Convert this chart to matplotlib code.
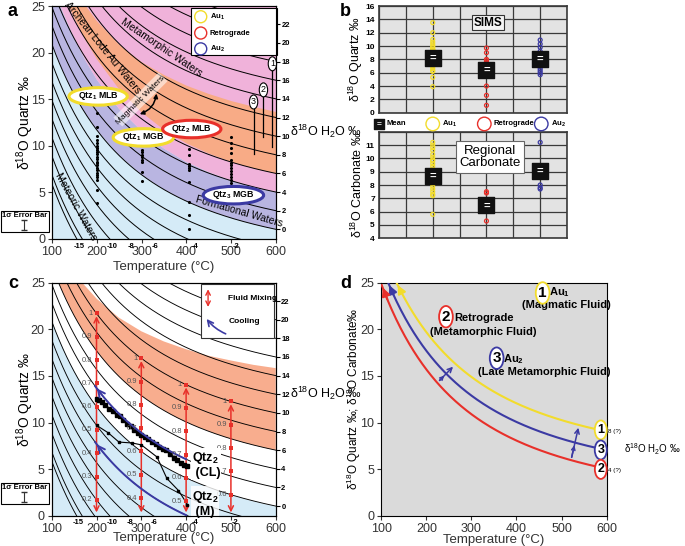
import numpy as np
import matplotlib.pyplot as plt
from matplotlib.patches import Rectangle
from matplotlib.lines import Line2D

plt.rcParams['font.family'] = ['Liberation Sans', 'DejaVu Sans']
plt.rcParams['mathtext.fontset'] = 'custom'
plt.rcParams['mathtext.rm'] = 'Liberation Sans'
plt.rcParams['mathtext.bf'] = 'Liberation Sans:bold'

# quartz-water fractionation used for the isopleths: 1000 ln a = A/T^2 - B
FRAC_A = 3.38e6
FRAC_B = 3.40

# water isopleths drawn in a and c
isopleth_water = [-15, -14, -12, -10, -8, -6, -4, -2, 0, 2, 4, 6, 8, 10, 12, 14, 16, 18, 20, 22]
right_labels = [0, 2, 4, 6, 8, 10, 12, 14, 16, 18, 20, 22]
bottom_label_t = [160, 234, 276, 329, 420, 510]
bottom_label_txt = ['-15', '-10', '-8', '-6', '-4', '-2']

# panel a fluid fields: water d18O of the field limits, read at these temperatures
field_t = [100, 125, 150, 175, 200, 250, 300, 350, 400, 450, 500, 550, 600]
meteoric_top = [0] * 13
formational_top = [6.5, 6.3, 6.0, 5.7, 5.4, 5.0, 4.7, 4.4, 4.2, 4.1, 4.0, 4.0, 4.0]
lode_low = [8.6, 8.4, 8.2, 7.9, 7.6, 7.1, 6.7, 6.4, 6.2, 6.1, 6.0, 6.0, 6.0]
lode_high = [11.3, 11.4, 11.5, 11.6, 11.7, 11.9, 12.1, 12.3, 12.4, 12.5, 12.55, 12.6, 12.6]

# panel a measured quartz (d18O) by temperature column
au1_200 = [13.5, 12.0, 11.0, 10.6, 10.3, 10.0, 9.8, 9.5, 9.3, 9.1, 8.8, 8.6, 8.3, 8.1,
           7.9, 7.6, 7.4, 7.1, 6.9, 6.6, 6.3, 5.3, 3.9]
au1_300 = [9.5, 9.3, 9.0, 8.8, 8.5, 8.3, 7.2, 6.2]
retro_400 = [9.7, 9.0, 8.0, 7.8, 7.6, 7.4, 6.1, 4.0, 2.6, 1.1]
au2_500 = [10.9, 10.3, 9.8, 9.2, 8.5, 8.2, 7.9, 7.6, 7.3, 7.0, 6.6, 6.3, 6.0, 5.7]

# panel b
sims_means = [8.25, 6.4, 8.0]
carb_au1 = [11.2, 11.0, 10.8, 10.6, 10.3, 10.1, 9.9, 9.8, 9.6, 9.4, 9.2, 9.0, 8.9, 8.7,
            8.5, 8.3, 8.1, 7.9, 7.7, 7.5, 7.3, 7.2, 5.8]
carb_retro = [7.5, 7.4, 5.3]
carb_au2 = [11.2, 8.0, 7.8, 7.7]
carb_means = [8.65, 6.47, 9.08]

# panel c
mix_temps = [200, 300, 400, 500]
mix_fracs = [[0.2, 0.3, 0.4, 0.5, 0.6, 0.7, 0.8, 0.9, 1],
             [0.4, 0.5, 0.6, 0.7, 0.8, 0.9, 1],
             [0.5, 0.6, 0.7, 0.8, 0.9, 1],
             [0.6, 0.7, 0.8, 0.9, 1]]
mix_low_water, mix_high_water = -15, 10
cl_t = [200, 205, 212, 220, 228, 236, 245, 252, 260, 268, 276, 284, 292, 300, 308, 316,
        324, 332, 340, 348, 356, 364, 372, 380, 388, 396, 401]
cl_q = [12.5, 12.4, 12.2, 11.9, 11.5, 11.2, 10.8, 10.7, 10.3, 9.8, 9.6, 9.2, 8.9, 8.7,
        8.4, 8.2, 7.9, 7.7, 7.4, 7.2, 7.0, 6.6, 6.2, 6.0, 5.7, 5.4, 5.3]
m_t = [200, 226, 250, 280, 300, 335, 357, 383, 403]
m_q = [9.7, 8.9, 7.9, 7.8, 7.6, 6.3, 4.0, 2.7, 1.2]
cooling_water = [2, -4]
c_lode_low = 6
c_lode_top_t = [150, 175, 200, 250, 300, 350, 400, 450, 500, 550, 600]
c_lode_top_w = [10.5, 11.2, 11.6, 12.3, 12.9, 13.4, 13.8, 14.1, 14.4, 14.6, 14.8]

# panel d
d_water = [8, 6, 4]
d_colors = ['#f2dc2c', '#3b3aa3', '#e8302a']

BLUE = '#3b3aa3'
RED = '#e8302a'
YEL = '#f2dc2c'


def quartz_d18o(temp_c, water):
    tk = np.asarray(temp_c, dtype=float) + 273.15
    return np.asarray(water, dtype=float) + FRAC_A / tk ** 2 - FRAC_B


tgrid = np.linspace(100, 600, 300)

fig = plt.figure(figsize=(6.85, 5.46), dpi=100)
ax_a = fig.add_axes([0.0759, 0.5623, 0.327, 0.4267])
ax_b1 = fig.add_axes([0.5533, 0.7936, 0.2745, 0.1954])
ax_b2 = fig.add_axes([0.5533, 0.5635, 0.2745, 0.1953])
ax_c = fig.add_axes([0.0755, 0.0555, 0.327, 0.4267])
ax_d = fig.add_axes([0.5566, 0.0555, 0.329, 0.4267])


def temp_axes(ax, xlab_y):
    ax.set_xlim(100, 600)
    ax.set_ylim(0, 25)
    ax.set_xticks(range(100, 601, 100))
    ax.set_yticks(range(0, 26, 5))
    ax.tick_params(labelsize=9, colors='#333333', length=3, pad=2)
    ax.set_xlabel('Temperature (°C)', fontsize=9.5, color='#333333')
    ax.xaxis.set_label_coords(0.5, xlab_y)


def isopleth_axes(ax, xlab_y, lw=0.7):
    for w in isopleth_water:
        ax.plot(tgrid, quartz_d18o(tgrid, w), color='k', lw=lw, zorder=2)
    temp_axes(ax, xlab_y)
    ax.set_ylabel('δ$^{18}$O Quartz ‰', fontsize=10)
    ax.yaxis.set_label_coords(-0.07, 0.5)
    for t, s in zip(bottom_label_t, bottom_label_txt):
        ax.text(t, -0.4, s, ha='center', va='top', fontsize=5.5, fontweight='bold')
    ax2 = ax.twinx()
    ax2.set_ylim(0, 25)
    ax2.set_yticks(quartz_d18o(600, np.array(right_labels)))
    ax2.set_yticklabels([str(v) for v in right_labels], fontsize=5.5, fontweight='bold')
    ax2.tick_params(length=3, width=0.8, pad=1)


def field(ax, w_low, w_high, color):
    t = np.array(field_t, dtype=float)
    lo = quartz_d18o(t, w_low)
    hi = quartz_d18o(t, w_high)
    ax.fill(np.concatenate([t, t[::-1]]), np.concatenate([lo, hi[::-1]]), color=color, lw=0, zorder=0)


def error_box(top_px):
    x0, w, h = 1, 48, 21
    y0 = 546 - top_px - h
    fig.add_artist(Rectangle((x0 / 685, y0 / 546), w / 685, h / 546, transform=fig.transFigure,
                             fill=False, ec='k', lw=0.8))
    fig.text((x0 + w / 2) / 685, (546 - top_px - 4.5) / 546, '1σ Error Bar', ha='center',
             va='center', fontsize=5.5, fontweight='bold')
    xb = 24 / 685
    fig.add_artist(Line2D([xb, xb], [(546 - top_px - 9) / 546, (546 - top_px - 19) / 546],
                          transform=fig.transFigure, color='#333', lw=0.8, marker='_', markersize=4))


# ---------------- panel a
ax = ax_a
ax.set_facecolor('#d5ebf7')
field(ax, meteoric_top, formational_top, '#b9b5e1')
field(ax, formational_top, [40] * 13, '#f0b2da')
field(ax, lode_low, lode_high, '#f8ab86')
isopleth_axes(ax, -0.093)

for t, vals in [(200, au1_200), (300, au1_300), (405, retro_400), (500, au2_500)]:
    ax.scatter([t] * len(vals), vals, s=5, color='k', zorder=4, lw=0)

ax.plot([247, 348], [12.55, 17.4], color='white', alpha=0.55, lw=9, zorder=3, solid_capstyle='butt')
ax.text(297, 14.9, 'Magmatic Waters', rotation=45, fontsize=6, ha='center', va='center', zorder=4)
ax.annotate('', xy=(334, 15.9), xytext=(290, 13.3),
            arrowprops=dict(arrowstyle='<|-|>', color='k', lw=1.1, mutation_scale=6,
                            connectionstyle='arc3,rad=0.35'), zorder=4)

ax.text(212, 20.5, 'Archean Lode Au Waters', rotation=-51, fontsize=7.5, ha='center', va='center', zorder=4)
ax.text(345, 20.5, 'Metamorphic Waters', rotation=-34, fontsize=7.5, ha='center', va='center', zorder=4)
ax.text(518, 2.9, 'Formational Waters', rotation=-16, fontsize=7.5, ha='center', va='center', zorder=4)
ax.text(154, 3.5, 'Meteoric Waters', rotation=-61, fontsize=7.5, ha='center', va='center', zorder=4)

for (t, q, s, col) in [(203, 15.3, r'Qtz$_\mathbf{1}$ MLB', YEL), (304, 10.9, r'Qtz$_\mathbf{1}$ MGB', YEL),
                       (412, 11.8, r'Qtz$_\mathbf{2}$ MLB', RED), (505, 4.7, r'Qtz$_\mathbf{3}$ MGB', BLUE)]:
    ax.text(t, q, s, ha='center', va='center', fontsize=6.3, fontweight='bold', zorder=6,
            bbox=dict(boxstyle='ellipse,pad=0.02', fc='white', ec=col, lw=2.2))

for (t, lo, hi, s) in [(592, 9.9, 18.8, '1'), (572, 10.9, 16.0, '2'), (550, 9.1, 14.7, '3')]:
    ax.plot([t, t], [lo, hi], color='k', lw=0.9, zorder=4)
    ax.text(t, hi, s, ha='center', va='center', fontsize=6.5, zorder=6,
            bbox=dict(boxstyle='ellipse,pad=0.05', fc='white', ec='k', lw=0.8))

ax.add_patch(Rectangle((410, 19.75), 193, 5.0, fc='white', ec='k', lw=0.8, zorder=7, clip_on=False))
for q, col, s in [(23.85, YEL, r'Au$_\mathbf{1}$'), (22.1, RED, 'Retrograde'), (20.4, BLUE, r'Au$_\mathbf{2}$')]:
    ax.scatter([432], [q], s=75, facecolors='none', edgecolors=col, lw=1.0, zorder=8)
    ax.text(452, q, s, fontsize=5.5, fontweight='bold', va='center', zorder=8)

fig.text(290 / 685, 1 - 131 / 546, 'δ$^{18}$O H$_2$O ‰', fontsize=9, va='center')
error_box(211)

# ---------------- panel b
b_x = [2, 4, 6]
for axb in (ax_b1, ax_b2):
    axb.set_facecolor('#e3e3e3')
    axb.set_xlim(0, 7)
    axb.set_xticks(range(8))
    axb.set_xticklabels([])
    axb.tick_params(length=0, labelsize=6, pad=3)
    axb.grid(True, color='#3a3a3a', lw=0.9)
    axb.set_axisbelow(True)
    for sp in axb.spines.values():
        sp.set_color('#3a3a3a')
        sp.set_linewidth(1.2)

ax_b1.set_ylim(0, 16)
ax_b1.set_yticks(range(0, 17, 2))
ax_b2.set_ylim(4, 12)
ax_b2.set_yticks(range(4, 13))
ax_b2.set_yticklabels([str(v) for v in range(4, 12)] + [''])
for axb in (ax_b1, ax_b2):
    for lab in axb.get_yticklabels():
        lab.set_fontweight('bold')

sims_sets = [au1_200 + au1_300, retro_400, au2_500]
carb_sets = [carb_au1, carb_retro, carb_au2]
for axb, sets, means in [(ax_b1, sims_sets, sims_means), (ax_b2, carb_sets, carb_means)]:
    for x, vals, col in zip(b_x, sets, [YEL, RED, BLUE]):
        axb.scatter([x] * len(vals), vals, s=8, facecolors='none', edgecolors=col, lw=0.9, zorder=3)
    axb.scatter(b_x, means, marker='s', s=120, color='#111111', zorder=4)
    for x, m in zip(b_x, means):
        axb.text(x, m, '=', color='white', fontsize=8, fontweight='bold', ha='center', va='center', zorder=5)

ax_b1.set_ylabel('δ$^{18}$O Quartz ‰', fontsize=9)
ax_b2.set_ylabel('δ$^{18}$O Carbonate ‰', fontsize=9)
ax_b1.yaxis.set_label_coords(-0.074, 0.5)
ax_b2.yaxis.set_label_coords(-0.074, 0.5)
ax_b1.text(4.07, 13.5, 'SIMS', ha='center', va='center', fontsize=8.5, fontweight='bold',
           bbox=dict(boxstyle='square,pad=0.15', fc='#f4f4f4', ec='#333', lw=0.8))
ax_b2.text(4.13, 10.1, 'Regional\nCarbonate', ha='center', va='center', fontsize=9.5,
           linespacing=1.1, bbox=dict(boxstyle='square,pad=0.25', fc='white', ec='#666', lw=0.8))

ax_l = fig.add_axes([0.5533, 0.763, 0.2745, 0.02])
ax_l.axis('off')
ax_l.set_xlim(0, 7)
ax_l.set_ylim(0, 1)
ax_l.scatter([0.0], [0.5], marker='s', s=60, color='#111', clip_on=False)
ax_l.text(0.0, 0.5, '=', color='white', fontsize=6, fontweight='bold', ha='center', va='center')
ax_l.text(0.29, 0.5, 'Mean', fontsize=5.5, fontweight='bold', va='center')
for x, col, s in [(2.0, YEL, r'Au$_\mathbf{1}$'), (3.92, RED, 'Retrograde'), (6.04, BLUE, r'Au$_\mathbf{2}$')]:
    ax_l.scatter([x], [0.5], s=95, facecolors='none', edgecolors=col, lw=1.0, clip_on=False)
    ax_l.text(x + 0.36, 0.5, s, fontsize=5.5, fontweight='bold', va='center', clip_on=False)

# ---------------- panel c
ax = ax_c
ax.fill_between(tgrid, 0, quartz_d18o(tgrid, 0), color='#d5ebf7', lw=0, zorder=0)
low_q = quartz_d18o(tgrid, c_lode_low)
top_q = quartz_d18o(np.array(c_lode_top_t), np.array(c_lode_top_w))
poly_t = np.concatenate([tgrid, np.array(c_lode_top_t)[::-1]])
poly_q = np.concatenate([low_q, top_q[::-1]])
ax.fill(poly_t, np.minimum(poly_q, 30), color='#f8ad8e', lw=0, zorder=0)
isopleth_axes(ax, -0.071, lw=0.65)

for t, fr in zip(mix_temps, mix_fracs):
    fr = np.array(fr)
    qv = quartz_d18o(t, mix_low_water + fr * (mix_high_water - mix_low_water))
    ax.annotate('', xy=(t, 0.05), xytext=(t, qv.max()),
                arrowprops=dict(arrowstyle='<->', color=RED, lw=1.1, mutation_scale=9), zorder=5)
    ax.scatter([t] * len(qv), qv, marker='s', s=6, color=RED, zorder=6, lw=0)
    for f, q in zip(fr, qv):
        lab = '1' if f == 1 else f'{f:.1f}'
        ax.text(t - 9, q, lab, fontsize=5.5, color='#555', ha='right', va='center', zorder=6)

ax.plot(cl_t, cl_q, color='k', lw=1.1, marker='s', markersize=2.6, zorder=5)
ax.plot(m_t, m_q, color='k', lw=0.8, marker='s', markersize=2, zorder=5)

for w in cooling_water:
    tc = np.linspace(400, 197, 60)
    qc = quartz_d18o(tc, w)
    ax.plot(tc, qc, color=BLUE, lw=1.4, zorder=5)
    ax.annotate('', xy=(tc[-1], qc[-1]), xytext=(tc[-4], qc[-4]),
                arrowprops=dict(arrowstyle='->', color=BLUE, lw=1.4, mutation_scale=12), zorder=5)

ax.text(413, 5.45, 'Qtz$_\\mathbf{2}$\n (CL)', fontsize=9, fontweight='bold', va='center', zorder=7,
        linespacing=1.1, bbox=dict(boxstyle='square,pad=0.05', fc='white', ec='none'))
ax.text(413, 1.35, 'Qtz$_\\mathbf{2}$\n (M)', fontsize=9, fontweight='bold', va='center', zorder=7,
        linespacing=1.1, bbox=dict(boxstyle='square,pad=0.05', fc='white', ec='none', alpha=0.8))

ax.add_patch(Rectangle((434, 19.05), 163, 5.8, fc='white', ec='#333', lw=0.8, zorder=7))
ax.annotate('', xy=(449, 24.6), xytext=(449, 22.1),
            arrowprops=dict(arrowstyle='<->', color=RED, lw=1.0, mutation_scale=8), zorder=8)
ax.annotate('', xy=(442, 21.35), xytext=(494, 19.4),
            arrowprops=dict(arrowstyle='->', color=BLUE, lw=1.2, mutation_scale=10,
                            connectionstyle='arc3,rad=-0.15'), zorder=8)
ax.text(494, 23.3, 'Fluid Mixing', fontsize=6, fontweight='bold', va='center', zorder=8)
ax.text(494, 20.8, 'Cooling', fontsize=6, fontweight='bold', va='center', zorder=8)

fig.text(290 / 685, 1 - 393 / 546, 'δ$^{18}$O H$_2$O ‰', fontsize=9, va='center')
error_box(483)

# ---------------- panel d
ax = ax_d
ax.set_facecolor('#dadada')
for w, col in zip(d_water, d_colors):
    t_top = np.sqrt(FRAC_A / (25 - w + FRAC_B)) - 273.15
    td = np.linspace(max(t_top, 101), 588, 200)
    qd = quartz_d18o(td, w)
    ax.plot(td, qd, color=col, lw=1.5, zorder=3)
    ax.annotate('', xy=(td[0], qd[0]), xytext=(td[6], qd[6]),
                arrowprops=dict(arrowstyle='-|>', color=col, lw=1.5, mutation_scale=12),
                zorder=3, annotation_clip=False)

for (p0, p1) in [((225, 14.3), (263.5, 16.2)), ((521, 5.97), (538.6, 9.73))]:
    ax.annotate('', xy=p1, xytext=p0, arrowprops=dict(arrowstyle='->', color=BLUE, lw=1.1,
                                                     mutation_scale=8), zorder=4)
    mid = ((p0[0] + p1[0]) / 2, (p0[1] + p1[1]) / 2)
    ax.annotate('', xy=mid, xytext=p0, arrowprops=dict(arrowstyle='->', color=BLUE, lw=1.1,
                                                      mutation_scale=6), zorder=4)

for (t, q, s, col) in [(587, 9.2, '1', YEL), (587, 7.05, '3', BLUE), (587, 4.97, '2', RED)]:
    ax.text(t, q, s, ha='center', va='center', fontsize=9, fontweight='bold', zorder=6,
            bbox=dict(boxstyle='ellipse,pad=0.06', fc='white', ec=col, lw=1.3))
ax.text(602, 9.0, '8 (?)', fontsize=4.5, va='center', clip_on=False)
ax.text(602, 4.8, '4 (?)', fontsize=4.5, va='center', clip_on=False)

for (t, q, s, col) in [(458, 23.9, '1', YEL), (243.5, 21.35, '2', RED), (356, 16.9, '3', BLUE)]:
    ax.text(t, q, s, ha='center', va='center', fontsize=11, fontweight='bold', zorder=6,
            bbox=dict(boxstyle='ellipse,pad=0.04', fc='white', ec=col, lw=1.3))
ax.text(472, 24.0, r'Au$_\mathbf{1}$', fontsize=8, fontweight='bold', va='center')
ax.text(510, 22.6, '(Magmatic Fluid)', fontsize=8, fontweight='bold', va='center', ha='center')
ax.text(263, 21.2, 'Retrograde', fontsize=8, fontweight='bold', va='center')
ax.text(326, 19.7, '(Metamorphic Fluid)', fontsize=8, fontweight='bold', va='center', ha='center')
ax.text(370, 16.8, r'Au$_\mathbf{2}$', fontsize=8, fontweight='bold', va='center')
ax.text(461, 15.45, '(Late Metamorphic Fluid)', fontsize=8, fontweight='bold', va='center', ha='center')

temp_axes(ax, -0.079)
ax.set_ylabel('δ$^{18}$O Quartz ‰; δ$^{18}$O Carbonate‰', fontsize=8.5)
ax.yaxis.set_label_coords(-0.081, 0.5)
fig.text(624 / 685, 1 - 449 / 546, 'δ$^{18}$O H$_2$O ‰', fontsize=7, va='center')

for s, x, y in [('a', 8, 12), ('b', 340, 12), ('c', 8, 284), ('d', 340, 283)]:
    fig.text(x / 685, 1 - y / 546, s, fontsize=13, fontweight='bold', va='center')

fig.savefig('out.png', dpi=100)
